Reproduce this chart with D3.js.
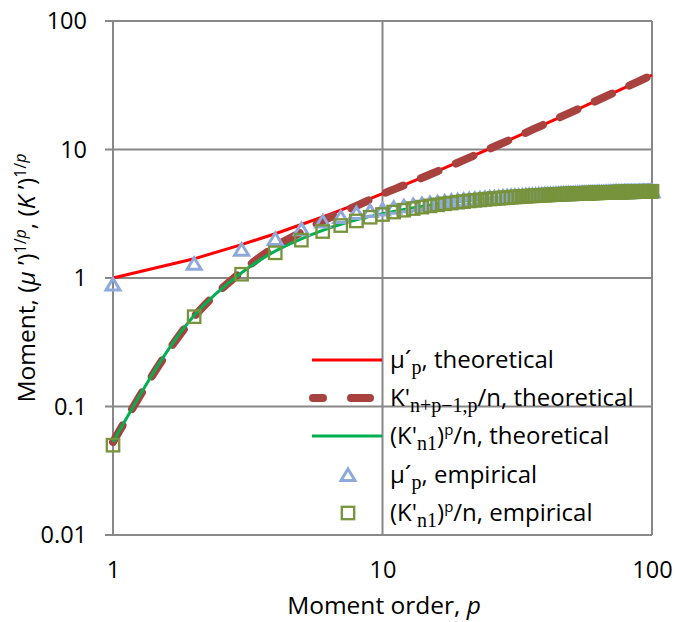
<!DOCTYPE html>
<html>
<head>
<meta charset="utf-8">
<script src="https://cdn.jsdelivr.net/npm/d3@7"></script>
<style>
  body { margin: 0; background: #fff; }
  svg text { font-family: "Open Sans", sans-serif; fill: #000; }
  .grid line { stroke: #888; stroke-width: 2; }
</style>
</head>
<body>
<svg id="chart"></svg>
<script>
// 理论曲线的取点 (p)
const pTheory = [1, 2, 3, 4, 5, 6, 7, 8, 9, 10, 12, 15, 20, 25, 30, 40, 50, 60, 70, 80, 90, 100];
// μ'p, theoretical
const muTheory = [1.00, 1.41, 1.82, 2.21, 2.61, 2.99, 3.38, 3.76, 4.15, 4.53, 5.29, 6.42, 8.30, 10.18, 12.04, 15.77, 19.48, 23.19, 26.90, 30.60, 34.30, 37.99];
// K'n+p-1,p/n, theoretical
const kTheory = [0.053, 0.50, 1.12, 1.76, 2.27, 2.78, 3.22, 3.64, 4.08, 4.50, 5.26, 6.39, 8.26, 10.15, 12.0, 15.75, 19.45, 23.15, 26.85, 30.55, 34.25, 37.95];
// (K'n1)^p/n, theoretical
const knTheory = [0.053, 0.51, 1.10, 1.62, 2.02, 2.35, 2.62, 2.84, 3.02, 3.17, 3.42, 3.69, 3.98, 4.17, 4.29, 4.46, 4.56, 4.63, 4.68, 4.72, 4.75, 4.77];

// 经验值：p = 1 … 100
const pEmp = d3.range(1, 101);
const muEmp = [
  0.89, 1.29, 1.66, 2.01, 2.40, 2.75, 2.98, 3.20, 3.32, 3.42,
  3.52, 3.61, 3.69, 3.76, 3.82, 3.88, 3.93, 3.98, 4.02, 4.06,
  4.10, 4.13, 4.16, 4.19, 4.22, 4.24, 4.26, 4.29, 4.31, 4.33,
  4.35, 4.36, 4.38, 4.39, 4.41, 4.42, 4.43, 4.45, 4.46, 4.47,
  4.48, 4.49, 4.50, 4.51, 4.52, 4.53, 4.53, 4.54, 4.55, 4.55,
  4.56, 4.57, 4.57, 4.58, 4.59, 4.59, 4.60, 4.60, 4.61, 4.61,
  4.62, 4.62, 4.63, 4.63, 4.64, 4.64, 4.64, 4.65, 4.65, 4.66,
  4.66, 4.66, 4.67, 4.67, 4.67, 4.68, 4.68, 4.68, 4.69, 4.69,
  4.69, 4.70, 4.70, 4.70, 4.70, 4.71, 4.71, 4.71, 4.71, 4.72,
  4.72, 4.72, 4.72, 4.72, 4.73, 4.73, 4.73, 4.73, 4.74, 4.74
];
const knEmp = [
  0.05, 0.50, 1.07, 1.57, 1.97, 2.30, 2.56, 2.78, 2.97, 3.12,
  3.26, 3.37, 3.47, 3.56, 3.64, 3.71, 3.78, 3.83, 3.89, 3.93,
  3.98, 4.02, 4.05, 4.09, 4.12, 4.15, 4.17, 4.20, 4.22, 4.25,
  4.27, 4.29, 4.31, 4.32, 4.34, 4.36, 4.37, 4.39, 4.40, 4.41,
  4.42, 4.44, 4.45, 4.46, 4.47, 4.48, 4.49, 4.50, 4.51, 4.51,
  4.52, 4.53, 4.54, 4.55, 4.55, 4.56, 4.57, 4.57, 4.58, 4.58,
  4.59, 4.60, 4.60, 4.61, 4.61, 4.62, 4.62, 4.63, 4.63, 4.64,
  4.64, 4.64, 4.65, 4.65, 4.66, 4.66, 4.66, 4.67, 4.67, 4.67,
  4.68, 4.68, 4.68, 4.69, 4.69, 4.69, 4.70, 4.70, 4.70, 4.70,
  4.71, 4.71, 4.71, 4.71, 4.72, 4.72, 4.72, 4.72, 4.73, 4.73
];

// 刻度
const xTicks = [1, 10, 100];
const yTicks = [0.01, 0.1, 1, 10, 100];

const width = 675, height = 622;
const svg = d3.select("#chart").attr("width", width).attr("height", height);

const x = d3.scaleLog().domain([1, 100]).range([113, 652]);
const y = d3.scaleLog().domain([0.01, 100]).range([535, 21]);

// 网格线
const grid = svg.append("g").attr("class", "grid");
grid.selectAll("line.h").data(yTicks).join("line").attr("class", "h")
  .attr("x1", x(1) - 8).attr("x2", x(100))
  .attr("y1", d => y(d)).attr("y2", d => y(d));
grid.selectAll("line.v").data(xTicks).join("line").attr("class", "v")
  .attr("x1", d => x(d)).attr("x2", d => x(d))
  .attr("y1", y(100)).attr("y2", y(0.01));

// 坐标轴文字
const yAxis = svg.append("g")
  .attr("transform", `translate(${x(1)},0)`)
  .call(d3.axisLeft(y).tickValues(yTicks).tickFormat(d => String(d)).tickSize(0).tickPadding(26));
const xAxis = svg.append("g")
  .attr("transform", `translate(0,${y(0.01)})`)
  .call(d3.axisBottom(x).tickValues(xTicks).tickFormat(d => String(d)).tickSize(0));
[yAxis, xAxis].forEach(a => {
  a.select(".domain").remove();
  a.selectAll("text").attr("fill", "#000").style("font-size", "23.5px").style("font-family", "'Open Sans', sans-serif");
});
xAxis.selectAll("text").attr("y", 43).attr("dy", 0);

// 理论曲线
const theoryRows = pTheory.map((p, i) => ({ p, mu: muTheory[i], k: kTheory[i], kn: knTheory[i] }));
const line = key => d3.line().x(d => x(d.p)).y(d => y(d[key]));

svg.append("path").datum(theoryRows)
  .attr("d", line("mu")).attr("fill", "none").attr("stroke", "#FF0000").attr("stroke-width", 3);
svg.append("path").datum(theoryRows)
  .attr("d", line("k").curve(d3.curveMonotoneX)).attr("fill", "none").attr("stroke", "#A8423F")
  .attr("stroke-width", 8).attr("stroke-linecap", "round").attr("stroke-dasharray", "19,19");
svg.append("path").datum(theoryRows)
  .attr("d", line("kn").curve(d3.curveMonotoneX)).attr("fill", "none").attr("stroke", "#00B050").attr("stroke-width", 3);

// 经验点
const triPath = "M0,-6L7,5.5L-7,5.5Z";
const empRows = pEmp.map((p, i) => ({ p, mu: muEmp[i], kn: knEmp[i] }));

svg.append("g").selectAll("path").data(empRows).join("path")
  .attr("d", triPath)
  .attr("transform", d => `translate(${x(d.p)},${y(d.mu)})`)
  .attr("fill", "none").attr("stroke", "#8EA9DB").attr("stroke-width", 3);
svg.append("g").selectAll("rect").data(empRows).join("rect")
  .attr("x", d => x(d.p) - 6.2).attr("y", d => y(d.kn) - 6.2)
  .attr("width", 12.4).attr("height", 12.4)
  .attr("fill", "none").attr("stroke", "#77933C").attr("stroke-width", 2.3);

// 图例
const legend = svg.append("g");
const rowY = [360, 398, 436, 475, 513];
legend.append("line").attr("x1", 312).attr("x2", 382).attr("y1", rowY[0]).attr("y2", rowY[0])
  .attr("stroke", "#FF0000").attr("stroke-width", 3);
legend.append("line").attr("x1", 313).attr("x2", 380).attr("y1", rowY[1]).attr("y2", rowY[1])
  .attr("stroke", "#A8423F").attr("stroke-width", 8).attr("stroke-linecap", "round")
  .attr("stroke-dasharray", "10,28,19,100");
legend.append("line").attr("x1", 312).attr("x2", 382).attr("y1", rowY[2]).attr("y2", rowY[2])
  .attr("stroke", "#00B050").attr("stroke-width", 3);
legend.append("path").attr("d", triPath).attr("transform", `translate(348,${rowY[3]})`)
  .attr("fill", "none").attr("stroke", "#8EA9DB").attr("stroke-width", 3);
legend.append("rect").attr("x", 341.8).attr("y", rowY[4] - 6.2).attr("width", 12.4).attr("height", 12.4)
  .attr("fill", "none").attr("stroke", "#77933C").attr("stroke-width", 2.3);

const serif = "'Liberation Serif', serif";
const legendText = [
  [["μ´"], ["p", "sub"], [", theoretical"]],
  [["K'"], ["n+p−1,p", "sub"], ["/n, theoretical"]],
  [["(K'"], ["n1", "sub"], [")"], ["p", "sup"], ["/n, theoretical"]],
  [["μ´"], ["p", "sub"], [", empirical"]],
  [["(K'"], ["n1", "sub"], [")"], ["p", "sup"], ["/n, empirical"]]
];
legendText.forEach((parts, i) => {
  const t = legend.append("text").attr("x", 390).attr("y", rowY[i] + 8).style("font-size", "24px");
  let shift = 0;
  parts.forEach(([s, kind]) => {
    const target = kind === "sub" ? 6 : kind === "sup" ? -9 : 0;
    const ts = t.append("tspan").text(s).attr("dy", target - shift);
    shift = target;
    if (kind === "sub") ts.style("font-family", serif).style("font-size", "20px");
    if (kind === "sup") ts.style("font-size", "15px");
  });
});

// 轴标题
const xt = svg.append("text").attr("x", 384).attr("y", 614).attr("text-anchor", "middle").style("font-size", "24.5px");
xt.append("tspan").text("Moment order, ");
xt.append("tspan").text("p").style("font-style", "italic");

const yt = svg.append("text").attr("transform", "translate(35,278) rotate(-90)")
  .attr("text-anchor", "middle").style("font-size", "24.5px");
yt.append("tspan").text("Moment, (");
yt.append("tspan").text("μ").style("font-style", "italic");
yt.append("tspan").text(" ’)");
yt.append("tspan").text("1/").attr("dy", -9).style("font-size", "16px");
yt.append("tspan").text("p").style("font-size", "16px").style("font-style", "italic");
yt.append("tspan").text(", (").attr("dy", 9);
yt.append("tspan").text("K").style("font-style", "italic");
yt.append("tspan").text(" ’)");
yt.append("tspan").text("1/").attr("dy", -9).style("font-size", "16px");
yt.append("tspan").text("p").style("font-size", "16px").style("font-style", "italic");
</script>
</body>
</html>
